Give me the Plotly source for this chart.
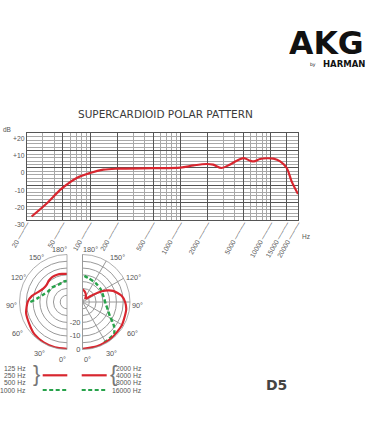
import plotly.graph_objects as go

# ---------------- data ----------------
# Frequency response (Hz, dB)
freq_hz = [22.5, 33, 48, 71, 100, 140, 200, 500, 1000, 1400, 1950, 2300, 2850, 3500,
           4200, 5000, 5900, 6500, 7600, 9000, 10700, 12700, 15000, 17000, 20000]
resp_db = [-28, -20.5, -12.1, -5.8, -2.9, -1.0, -0.4, -0.1, 0.2, 1.5, 2.3, 1.9, 0.0, 1.9,
           4.2, 5.7, 4.2, 3.8, 5.2, 5.6, 5.4, 3.8, 0.0, -7.7, -15.0]

freq_ticks = [20, 50, 100, 200, 500, 1000, 2000, 5000, 10000, 15000, 20000]
freq_tick_labels = ["20", "50", "100", "200", "500", "1000", "2000", "5000", "10000", "15000", "20000"]
freq_minor = [30, 40, 60, 70, 80, 90, 300, 400, 600, 700, 800, 900,
              3000, 4000, 6000, 7000, 8000, 9000]
db_ticks = [-30, -20, -10, 0, 10, 20]
db_tick_labels = ["-30", "-20", "-10", "0", "+10", "+20"]

# Polar: low frequencies (125/250/500 Hz red, 1000 Hz green)
low_red_deg = [0, 15, 30, 45, 60, 75, 90, 100, 110, 120, 130, 140, 150, 160, 170, 180]
low_red_db = [-0.5, -0.5, -0.7, -1.2, -2.9, -3.8, -6.0, -8.8, -12.8, -15.0, -15.4, -14.3, -13.6, -13.6, -14.0, -14.3]
low_green_deg = [90, 97, 106, 119, 134, 145, 155, 165, 172, 180]
low_green_db = [-8.0, -13.0, -16.4, -19.0, -19.7, -20.4, -20.8, -20.3, -19.7, -19.5]

# Polar: high frequencies (2000/4000/8000 Hz red, 16000 Hz green)
high_red_deg = [0, 18, 38, 59, 80, 90, 99, 110, 117, 121, 126, 132, 140, 150, 160, 170, 180]
high_red_db = [-0.5, -0.6, -0.8, -1.3, -2.3, -3.6, -5.8, -11.0, -16.5, -21.5, -27.5, -31.0, -31.5, -30.0, -28.3, -26.8, -25.6]
high_green_deg = [28, 45, 52, 56, 62, 73, 85, 98, 125, 146, 166, 180]
high_green_db = [-1.0, -2.0, -5.5, -8.0, -12.0, -15.5, -17.8, -18.8, -18.6, -18.0, -16.9, -15.0]

angle_ticks = [0, 30, 60, 90, 120, 150, 180]
angle_tick_labels = ["0°", "30°", "60°", "90°", "120°", "150°", "180°"]
radial_ticks = [-30, -25, -20, -15, -10, -5, 0]
radial_tick_labels = ["", "", "-20", "", "-10", "", "0"]

legend_low = ["125 Hz", "250 Hz", "500 Hz", "1000 Hz"]
legend_high = ["2000 Hz", "4000 Hz", "8000 Hz", "16000 Hz"]

# ---------------- styles ----------------
W, H = 370, 423
RED = "#d8262f"
GREEN = "#27a24a"
GRID_MAJ = "#555555"
GRID_MIN = "#a8a8a8"
PGRID = "#9a9a9a"
TXT = "#444444"
FONT = "Liberation Sans"


def px(x):
    return x / W


def py(y):
    return 1 - y / H


fig = go.Figure()

fig.add_trace(go.Scatter(
    x=freq_hz, y=resp_db, mode="lines",
    line=dict(color=RED, width=2.2, shape="spline", smoothing=0.9),
    hoverinfo="skip", showlegend=False))

line_green = dict(color=GREEN, width=2.4, dash="4px,2.5px", shape="spline", smoothing=0.6)
line_red = dict(color=RED, width=2.2, shape="spline", smoothing=0.6)
for sub, gdeg, gdb, rdeg, rdb in [("polar", low_green_deg, low_green_db, low_red_deg, low_red_db),
                                  ("polar2", high_green_deg, high_green_db, high_red_deg, high_red_db)]:
    fig.add_trace(go.Scatterpolar(r=gdb, theta=gdeg, subplot=sub, mode="lines",
                                  line=line_green, hoverinfo="skip", showlegend=False))
    fig.add_trace(go.Scatterpolar(r=rdb, theta=rdeg, subplot=sub, mode="lines",
                                  line=line_red, hoverinfo="skip", showlegend=False))

lead = "\u00a0<span style='color:#333'>" + "\u2500" * 4 + "</span>"


def polar_cfg(domx, direction, sector, show_radial):
    return dict(
        domain=dict(x=domx, y=[py(349.5), py(254.5)]),
        sector=sector,
        bgcolor="white",
        angularaxis=dict(rotation=270, direction=direction, tickmode="array",
                         tickvals=angle_ticks, showticklabels=False,
                         showline=True, linecolor=PGRID, linewidth=0.8,
                         gridcolor=PGRID, gridwidth=0.8, ticks=""),
        radialaxis=dict(range=[-35, 0], tickmode="array", tickvals=radial_ticks,
                        ticktext=radial_tick_labels, showline=False,
                        gridcolor=PGRID, gridwidth=0.8, ticks="",
                        showticklabels=show_radial, angle=-90, tickangle=-90,
                        tickfont=dict(family=FONT, size=7.5, color="#555")),
    )


ann = []


def text(x, y, t, size=7, color=TXT, xanchor="center", family=FONT, **kw):
    ann.append(dict(x=px(x), y=py(y), xref="paper", yref="paper", text=t, showarrow=False,
                    xanchor=xanchor, yanchor="middle",
                    font=dict(family=family, size=size, color=color), **kw))


# angular labels for both half-polars (label text from angle_tick_labels)
left_pos = [(62, 359), (39, 353), (17.5, 333), (11, 305), (18, 277), (36, 257), (59, 250)]
right_pos = [(87.5, 359), (111, 353), (132.5, 333), (137.5, 305), (133, 277), (117.5, 257), (90, 250)]
for lab, (lx, ly), (rx, ry) in zip(angle_tick_labels, left_pos, right_pos):
    text(lx, ly, lab, size=7.3, color="#555")
    text(rx, ry, lab, size=7.3, color="#555")

text(165, 114, "SUPERCARDIOID POLAR PATTERN", size=10.5, color="#3a3a3a", family="DejaVu Sans")
text(1, 129, "dB", size=6.5, color="#555", xanchor="left")
text(300, 236, "Hz", size=6.5, color="#555", xanchor="left")
for i, t in enumerate(legend_low):
    text(28, 368.5 + i * 7.2, t, size=6.8, color="#555", xanchor="right")
for i, t in enumerate(legend_high):
    text(144, 368.5 + i * 7.2, t, size=6.8, color="#555", xanchor="right")
text(36.5, 373, "}", size=22, color="#777", family="Liberation Sans")
text(113, 373, "{", size=22, color="#777", family="Liberation Sans")
text(276, 385, "<b>D5</b>", size=14, color="#444", family="DejaVu Sans")
text(366, 43.5, "<b>AKG</b>", size=31.5, color="#111", xanchor="right", family="DejaVu Sans", height=24)
text(318, 64.5, "by", size=4.5, color="#111", xanchor="right", family="DejaVu Sans")
text(367, 64, "<b>HARMAN</b>", size=8.5, color="#111", xanchor="right", family="DejaVu Sans", height=8)

shapes = [
    dict(type="line", xref="paper", yref="paper", x0=px(42.7), x1=px(67.3), y0=py(375.3), y1=py(375.3),
         line=dict(color=RED, width=2.2)),
    dict(type="line", xref="paper", yref="paper", x0=px(81.7), x1=px(106.7), y0=py(375.3), y1=py(375.3),
         line=dict(color=RED, width=2.2)),
    dict(type="line", xref="paper", yref="paper", x0=px(42.7), x1=px(67.3), y0=py(390), y1=py(390),
         line=dict(color=GREEN, width=2.2, dash="4px,2.5px")),
    dict(type="line", xref="paper", yref="paper", x0=px(81.7), x1=px(106.7), y0=py(390), y1=py(390),
         line=dict(color=GREEN, width=2.2, dash="4px,2.5px")),
]

fig.update_layout(
    width=W, height=H, margin=dict(l=0, r=0, t=0, b=0, autoexpand=False),
    paper_bgcolor="white", plot_bgcolor="white",
    showlegend=False,
    xaxis=dict(type="log", domain=[px(27), px(298)], anchor="y", automargin=False,
               range=[1.30103, 4.30103], tickmode="array", tickvals=freq_ticks,
               ticktext=[t + lead for t in freq_tick_labels], tickangle=-60,
               ticklabelstandoff=-4,
               tickfont=dict(family=FONT, size=6.8, color="#555"),
               showgrid=True, gridcolor=GRID_MAJ, gridwidth=1, zeroline=False,
               showline=True, linecolor=GRID_MAJ, linewidth=1, mirror=True, ticks="",
               minor=dict(tickmode="array", tickvals=freq_minor, showgrid=True,
                          gridcolor=GRID_MIN, gridwidth=0.8, ticks="")),
    yaxis=dict(domain=[py(220), py(133.3)], anchor="x", range=[-30, 20], automargin=False,
               tickmode="array", tickvals=db_ticks, ticktext=db_tick_labels,
               tickfont=dict(family=FONT, size=6.8, color="#555"), ticklabelshift=5,
               showgrid=True, gridcolor=GRID_MAJ, gridwidth=1, zeroline=False,
               showline=True, linecolor=GRID_MAJ, linewidth=1, mirror=True, ticks="",
               minor=dict(dtick=2, showgrid=True, gridcolor=GRID_MIN, gridwidth=0.8, ticks="")),
    polar=polar_cfg([px(19.5), px(67)], "clockwise", [90, 270], False),
    polar2=polar_cfg([px(82.5), px(130)], "counterclockwise", [-90, 90], True),
    annotations=ann,
    shapes=shapes,
)

fig.write_html("out.html", config={"displayModeBar": False},
               post_script="document.body.style.margin='0';document.body.style.overflow='hidden';")
